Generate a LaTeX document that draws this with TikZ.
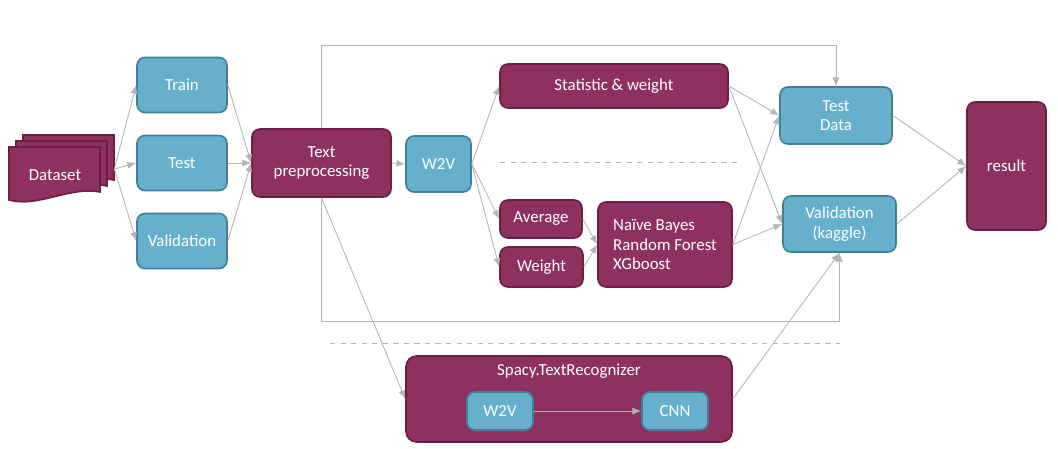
\documentclass[tikz,border=0pt]{standalone}
\usepackage{fontspec}
\setmainfont{Carlito}
\usetikzlibrary{arrows.meta}
\definecolor{plum}{HTML}{8E3060}
\definecolor{plumline}{HTML}{6A2046}
\definecolor{sky}{HTML}{66B0CE}
\definecolor{skyline}{HTML}{3F7F98}
\definecolor{wire}{HTML}{B4B4B4}
\begin{document}
\begin{tikzpicture}[x=0.02cm,y=-0.02cm]
                \tikzstyle{every node}+=[inner sep=0pt, text=white, font=\fontsize{9.6}{11}\selectfont, align=center]
                \tikzstyle{pbox}=[draw=plumline, fill=plum, line width=0.9pt, rounded corners=4.5pt]
                \tikzstyle{bbox}=[draw=skyline, fill=sky, line width=0.9pt, rounded corners=4.5pt]
                \tikzstyle{flow}=[draw=wire, line width=0.5pt, -{Latex[length=5pt,width=4pt]}]
                \useasboundingbox (0,0) rectangle (1058,449);
                \draw [plumline, fill=plum, line width=0.9pt] (23,135) -- (114,135) -- (114,180) .. controls (84,174) and (52,196) .. (23,188) -- cycle;
                \draw [plumline, fill=plum, line width=0.9pt] (16,141) -- (107,141) -- (107,186) .. controls (77,180) and (45,202) .. (16,194) -- cycle;
                \draw [plumline, fill=plum, line width=0.9pt] (9,147) -- (100,147) -- (100,192) .. controls (70,186) and (38,208) .. (9,200) -- cycle;
                \node (dataset) [minimum width=2.1cm, minimum height=1.36cm] at (61.5,169) {};
                \node (datasettext) at (55,175) {Dataset};
                \node (train) [bbox, minimum width=1.8cm, minimum height=1.1cm] at (182,85) {Train};
                \node (test) [bbox, minimum width=1.8cm, minimum height=1.1cm] at (182,163) {Test};
                \node (validation) [bbox, minimum width=1.8cm, minimum height=1.1cm] at (182,241) {Validation};
                \node (prep) [pbox, minimum width=2.78cm, minimum height=1.36cm] at (321.5,163) {Text\\preprocessing};
                \node (wtwov) [bbox, minimum width=1.3cm, minimum height=1.12cm] at (438.5,164) {W2V};
                \node (stat) [pbox, minimum width=4.56cm, minimum height=0.88cm] at (614,86) {Statistic \& weight};
                \node (average) [pbox, minimum width=1.64cm, minimum height=0.76cm] at (541,219) {Average};
                \node (weight) [pbox, minimum width=1.66cm, minimum height=0.8cm] at (541.5,267) {Weight};
                \node (models) [pbox, minimum width=2.68cm, minimum height=1.7cm, align=left] at (665,244.5) {Naïve Bayes\\Random Forest\\XGboost};
                \node (testdata) [bbox, minimum width=2.24cm, minimum height=1.14cm] at (836,115.5) {Test\\Data};
                \node (kaggle) [bbox, minimum width=2.26cm, minimum height=1.12cm] at (839.5,224) {Validation\\(kaggle)};
                \node (result) [pbox, minimum width=1.58cm, minimum height=2.56cm] at (1006.5,166) {result};
                \node (spacy) [pbox, rounded corners=6pt, minimum width=6.52cm, minimum height=1.72cm] at (569,399) {};
                \node (spacytext) at (569,371) {Spacy.TextRecognizer};
                \node (spacywtwov) [bbox, minimum width=1.32cm, minimum height=0.76cm] at (500,411) {W2V};
                \node (cnn) [bbox, minimum width=1.32cm, minimum height=0.76cm] at (675,411) {CNN};
                \draw [wire, dashed, line width=0.5pt] (500,162) -- (740,162);
                \draw [wire, dashed, line width=0.5pt] (330,343) -- (840,343);
                \draw [flow] (dataset.east) -- (train.west);
                \draw [flow] (dataset.east) -- (test.west);
                \draw [flow] (dataset.east) -- (validation.west);
                \draw [flow] (train.east) -- (prep.west);
                \draw [flow] (test.east) -- (prep.west);
                \draw [flow] (validation.east) -- (prep.west);
                \draw [flow] (prep.east) -- (wtwov.west);
                \draw [flow] (prep.north) -- (prep.north |- 0,45) -| (testdata.north);
                \draw [flow] (prep.south) -- (prep.south |- 0,321) -| (kaggle.south);
                \draw [flow] (prep.south) -- (spacy.west);
                \draw [flow] (wtwov.east) -- (stat.west);
                \draw [flow] (wtwov.east) -- (average.west);
                \draw [flow] (wtwov.east) -- (weight.west);
                \draw [flow] (average.east) -- (models.west);
                \draw [flow] (weight.east) -- (models.west);
                \draw [flow] (stat.east) -- (testdata.west);
                \draw [flow] (stat.east) -- (kaggle.west);
                \draw [flow] (models.east) -- (testdata.west);
                \draw [flow] (models.east) -- (kaggle.west);
                \draw [flow] (testdata.east) -- (result.west);
                \draw [flow] (kaggle.east) -- (result.west);
                \draw [flow] (spacy.east) -- (kaggle.south);
                \draw [flow] (spacywtwov.east) -- (cnn.west);
            \end{tikzpicture}
\end{document}
